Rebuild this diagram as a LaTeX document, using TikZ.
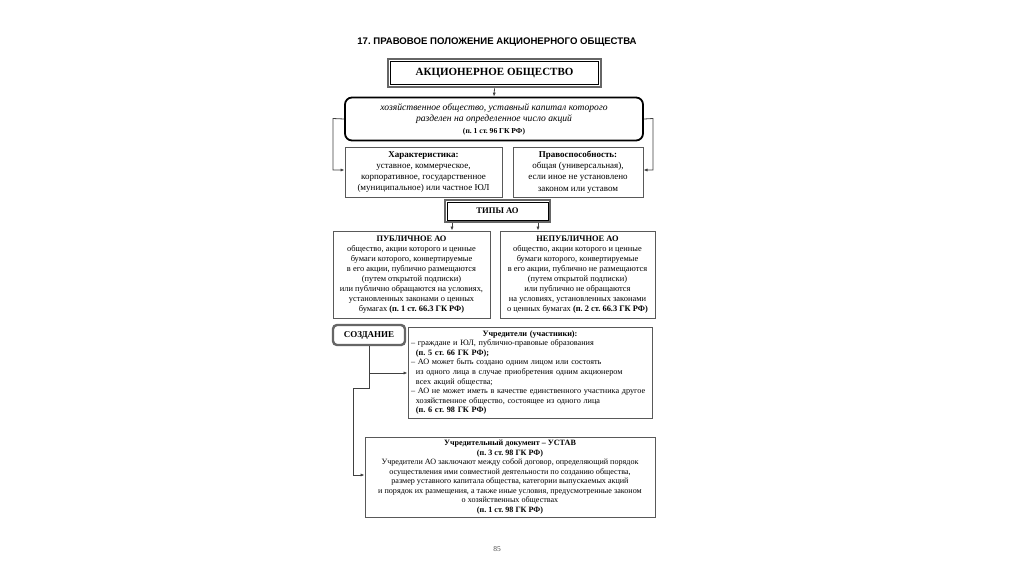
\documentclass[tikz,border=0pt]{standalone}
\usepackage{fontspec}
\setmainfont{Liberation Serif}
\newfontfamily\titlefont{Liberation Sans}
\usetikzlibrary{arrows.meta,calc}
\frenchspacing
\begin{document}
\begin{tikzpicture}[x=1pt,y=-1pt,
  box/.style={draw=black!65,line width=1pt,inner sep=0pt,align=center},
  dbox/.style={draw=black!60,line width=2.6pt,inner sep=0pt,align=center},
  conn/.style={draw=black!75,line width=0.8pt},
  arr/.style={conn,-{Latex[length=4pt,width=3.2pt]}},
  txt/.style={font=\fontsize{8.4}{10}\selectfont},
]
\useasboundingbox[fill=white] (0,0) rectangle (1024,574);

\node[font=\titlefont\bfseries\fontsize{9.6}{11}\selectfont] (title) at (497,42) {17. ПРАВОВОЕ ПОЛОЖЕНИЕ АКЦИОНЕРНОГО ОБЩЕСТВА};

% top box
\node[dbox,minimum width=213pt,minimum height=28pt,font=\bfseries\fontsize{11}{13}\selectfont] (top) at (494.5,73) {АКЦИОНЕРНОЕ ОБЩЕСТВО};
\draw[black,line width=0.6pt] ($(top.north west)+(3.6,3.6)$) rectangle ($(top.south east)+(-3.6,-3.6)$);

% definition
\node[draw=black,line width=1.8pt,rounded corners=7pt,inner sep=0pt,align=center,minimum width=298pt,minimum height=43pt,font=\itshape\fontsize{9.6}{11.5}\selectfont] (def) at (494,119)
 {хозяйственное общество, уставный капитал которого\\
  разделен на определенное число акций\\
  {\upshape\bfseries\fontsize{7.6}{9}\selectfont (п. 1 ст. 96 ГК РФ)}};

\node[box,minimum width=157pt,minimum height=50pt,font=\fontsize{9}{11.2}\selectfont] (char) at (423.5,172)
 {\textbf{Характеристика:}\\
  уставное, коммерческое,\\
  корпоративное, государственное\\
  (муниципальное) или частное ЮЛ};
\node[box,minimum width=130pt,minimum height=50pt,font=\fontsize{9}{11.2}\selectfont] (prav) at (578,172)
 {\textbf{Правоспособность:}\\
  общая (универсальная),\\
  если иное не установлено\\
  законом или уставом};

% types
\node[dbox,minimum width=105pt,minimum height=22pt,font=\bfseries\fontsize{8.6}{10}\selectfont] (types) at (497.5,211) {ТИПЫ АО};
\draw[black,line width=0.6pt] ($(types.north west)+(3.4,3.4)$) rectangle ($(types.south east)+(-3.4,-3.4)$);

\node[box,txt,minimum width=157pt,minimum height=87pt] (pub) at (411.5,274.5)
 {\textbf{ПУБЛИЧНОЕ АО}\\
  общество, акции которого и ценные\\
  бумаги которого, конвертируемые\\
  в его акции, публично размещаются\\
  (путем открытой подписки)\\
  или публично обращаются на условиях,\\
  установленных законами о ценных\\
  бумагах \textbf{(п. 1 ст. 66.3 ГК РФ)}};
\node[box,txt,minimum width=155pt,minimum height=87pt] (npub) at (577.5,274.5)
 {\textbf{НЕПУБЛИЧНОЕ АО}\\
  общество, акции которого и ценные\\
  бумаги которого, конвертируемые\\
  в его акции, публично не размещаются\\
  (путем открытой подписки)\\
  или публично не обращаются\\
  на условиях, установленных законами\\
  о ценных бумагах \textbf{(п. 2 ст. 66.3 ГК РФ)}};

% creation
\node[draw=black!60,line width=2.4pt,rounded corners=4pt,inner sep=0pt,minimum width=72pt,minimum height=20pt,font=\bfseries\fontsize{9}{10}\selectfont] (sozd) at (369,335) {СОЗДАНИЕ};

\node[box,minimum width=244pt,minimum height=91pt] (uchr) at (530,372.5) {};
\node[inner sep=0pt,text width=238pt,align=left,font=\fontsize{8.2}{9.6}\selectfont] (uchrt) at (uchr.center)
 {\makebox[\linewidth]{\textbf{Учредители (участники):}}\\
  – граждане и ЮЛ, публично-правовые образования\\
  \hspace*{0.6em}\textbf{(п. 5 ст. 66 ГК РФ);}\\
  – АО может быть создано одним лицом или состоять\\
  \hspace*{0.6em}из одного лица в случае приобретения одним акционером\\
  \hspace*{0.6em}всех акций общества;\\
  – АО не может иметь в качестве единственного участника другое\\
  \hspace*{0.6em}хозяйственное общество, состоящее из одного лица\\
  \hspace*{0.6em}\textbf{(п. 6 ст. 98 ГК РФ)}};

\node[box,minimum width=290pt,minimum height=80pt,font=\fontsize{8.1}{9.5}\selectfont] (ustav) at (510,477)
 {\textbf{Учредительный документ – УСТАВ}\\
  \textbf{(п. 3 ст. 98 ГК РФ)}\\
  Учредители АО заключают между собой договор, определяющий порядок\\
  осуществления ими совместной деятельности по созданию общества,\\
  размер уставного капитала общества, категории выпускаемых акций\\
  и порядок их размещения, а также иные условия, предусмотренные законом\\
  о хозяйственных обществах\\
  \textbf{(п. 1 ст. 98 ГК РФ)}};

\node[font=\fontsize{7.5}{9}\selectfont,text=black!70] (page) at (497,549) {85};

% connectors
\draw[arr] (top.south) -- (def.north);
\coordinate (lc) at (333,118.5);
\coordinate (rc) at (653,118.5);
\draw[arr] (def.west) -- (lc) -- (lc |- 0,170) -- (char.west |- 0,170);
\draw[arr] (def.east) -- (rc) -- (rc |- 0,170) -- (prav.east |- 0,170);
\draw[arr] (types.south -| 452,0) -- (pub.north -| 452,0);
\draw[arr] (types.south -| 538,0) -- (npub.north -| 538,0);
\coordinate (s1) at (369,373);
\coordinate (s2) at (369,388);
\coordinate (s3) at (353,388);
\coordinate (s4) at (353,475);
\draw[arr] (s1) -- (uchr.west |- s1);
\draw[arr] (sozd.south) -- (s2) -- (s3) -- (s4) -- (ustav.west |- s4);
\end{tikzpicture}
\end{document}
